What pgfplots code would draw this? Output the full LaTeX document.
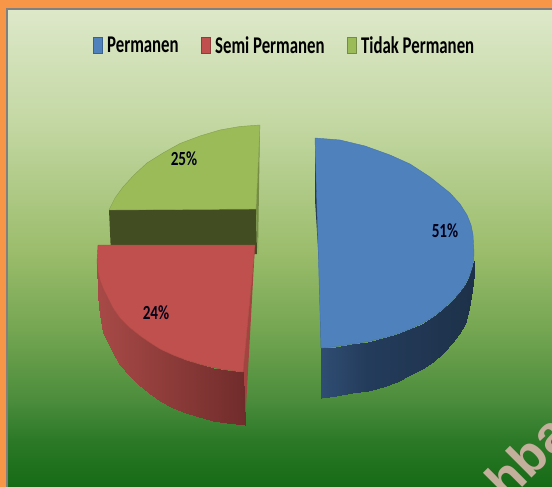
\documentclass[border=0pt]{standalone}
\usepackage{fontspec}
\setmainfont{Carlito}
\newfontfamily\leg[FakeStretch=0.70]{Carlito}
\newfontfamily\lab[FakeStretch=0.76]{Carlito}
\newfontfamily\wm{Liberation Sans}
\usepackage{pgfplots}
\pgfplotsset{compat=1.18}

\definecolor{orangeframe}{HTML}{F79646}
\definecolor{blueface}{HTML}{4F81BD}
\definecolor{redface}{HTML}{C0504D}
\definecolor{greenface}{HTML}{9BBB59}
\definecolor{greencut}{HTML}{434D22}

\pgfplotsset{
  colormap={bg}{rgb255(0pt)=(221,232,201); rgb255(110pt)=(196,216,164); rgb255(240pt)=(156,189,108); rgb255(320pt)=(117,166,82); rgb255(390pt)=(76,141,60); rgb255(430pt)=(44,122,40); rgb255(478pt)=(22,106,22)},
  colormap={redside}{rgb255(0pt)=(168,74,71); rgb255(100pt)=(112,44,43)},
  colormap={blueside}{rgb255(0pt)=(47,77,114); rgb255(30pt)=(36,60,92); rgb255(100pt)=(29,49,73)},
  legsq/.style={legend image code/.code={\draw[fill=#1,draw=#1!75!black] (0pt,-8pt) rectangle (9.5pt,8pt); \path (12pt,0pt);}},
}

\begin{document}
\begin{tikzpicture}
\clip (0,0) rectangle (552pt,487pt);
\begin{axis}[
    scale only axis,
    width=552pt, height=487pt,
    xmin=0, xmax=552,
    ymin=0, ymax=487,
    y dir=reverse,
    hide axis,
    clip=false,
    point meta min=0, point meta max=1,
    legend style={draw=none, fill=none, at={(axis cs:284.5,45.5)}, anchor=center,
      legend columns=3, font=\leg\bfseries\fontsize{24}{26}\selectfont,
      /tikz/every even column/.append style={column sep=20pt},
      inner sep=0pt},
    legend cell align=left,
]
\addlegendimage{legsq=blueface}
\addlegendentry{Permanen}
\addlegendimage{legsq=redface}
\addlegendentry{Semi Permanen}
\addlegendimage{legsq=greenface}
\addlegendentry{Tidak Permanen}

% frame and background
\addplot[fill=orangeframe, draw=none, forget plot] coordinates {(0,0) (552,0) (552,487) (0,487)} -- cycle;
\addplot[fill=gray, draw=none, forget plot] coordinates {(6,8) (552,8) (552,487) (6,487)} -- cycle;
\addplot[surf, shader=interp, colormap name=bg, mesh/cols=2, point meta=explicit, forget plot] table[meta=m] {
x y m
8 10 0
552 10 0
8 487 1
552 487 1
};

% green slice, cut faces first
\addplot[fill=greencut, draw=none, forget plot] coordinates {(109,210) (256,209) (257,254) (111,254)} -- cycle;
\addplot[fill=greenface!75!black, draw=none, forget plot] coordinates {(260,125) (258,254) (256,209)} -- cycle;
\addplot[fill=greenface, draw=greenface!85!black, thin, forget plot] coordinates {
(260,125) (240,126.5) (220,130) (200,136) (180,143.5) (163,153) (147,163) (134,175) (123,187) (115,198) (109,210) (256,209)} -- cycle;

% red slice
\addplot[fill=redface!85!black, draw=none, forget plot] coordinates {(255,245) (245,425) (243,372)} -- cycle;
\addplot[surf, shader=interp, colormap name=redside, mesh/cols=2, point meta=explicit, forget plot] table[meta=m] {
x y m
97 262 0
97 262 0
98 272 0.01
98 296 0.01
100 280 0.02
100 315 0.02
103 288 0.04
103 332 0.04
108 298 0.07
108 343 0.07
113 308 0.11
113 353 0.11
120 318 0.16
120 365 0.16
129 327 0.22
129 375 0.22
139 335 0.28
139 385 0.28
149 342 0.35
149 393 0.35
160 349 0.43
160 401 0.43
173 355 0.51
173 408 0.51
186 360 0.60
186 413 0.60
199 364 0.69
199 417 0.69
213 367.5 0.78
213 420.5 0.78
227 370 0.87
227 423 0.87
243 372 1
245 425 1
};
\addplot[fill=redface, draw=redface!90!black, thin, forget plot] coordinates {
(98,245) (255,245) (243,372) (227,370) (213,367.5) (199,364) (186,360) (173,355) (160,349) (149,342) (139,335) (129,327) (120,318) (113,308) (108,298) (103,288) (100,280) (98,272) (97,262)} -- cycle;

% blue slice
\addplot[fill=blueface!45!black, draw=none, forget plot] coordinates {(315,138) (315,200) (319,263) (321,348) (321,398) (323,398) (323,348)} -- cycle;
\addplot[surf, shader=interp, colormap name=blueside, mesh/cols=2, point meta=explicit, forget plot] table[meta=m] {
x y m
321 348 0
321 398 0
336 346.5 0.1
336 396 0.1
352 344 0.2
352 393 0.2
368 341.5 0.31
368 390.5 0.31
383 338 0.4
383 387 0.4
397 334 0.5
397 381.5 0.5
410 329 0.58
410 375 0.58
422 323.5 0.66
422 369 0.66
433 317 0.73
433 362 0.73
443 309 0.8
443 353 0.8
452 301 0.85
452 343 0.85
459 293 0.9
459 334 0.9
465 285 0.94
465 324 0.94
469 277 0.96
469 309 0.96
472 268 0.98
472 290 0.98
473.5 261 0.99
473.5 275 0.99
474 253 1
474 259 1
};
\addplot[fill=blueface, draw=blueface!90!black, thin, forget plot] coordinates {
(315,138) (340,140) (365,146) (390,155) (410,164) (430,177) (450,193) (460,204) (467,215) (471,225) (473,235) (474,253)
(473.5,261) (472,268) (469,277) (465,285) (459,293) (452,301) (443,309) (433,317) (422,323.5) (410,329) (397,334) (383,338) (368,341.5) (352,344) (336,346.5) (321,348)} -- cycle;

% percentages
\node[font=\lab\bfseries\fontsize{20}{22}\selectfont, text=black!90!blue] at (axis cs:445,231) {51\%};
\node[font=\lab\bfseries\fontsize{20}{22}\selectfont, text=black!90!blue] at (axis cs:184,159) {25\%};
\node[font=\lab\bfseries\fontsize{20}{22}\selectfont, text=black!90!blue] at (axis cs:156,313) {24\%};

% watermark, runs off the corner
\node[font=\wm\bfseries\fontsize{52}{54}\selectfont, text={rgb,255:red,195;green,175;blue,156}, rotate=45, anchor=base west, inner sep=0pt] at (axis cs:507,503) {hba};
\end{axis}
\end{tikzpicture}
\end{document}
